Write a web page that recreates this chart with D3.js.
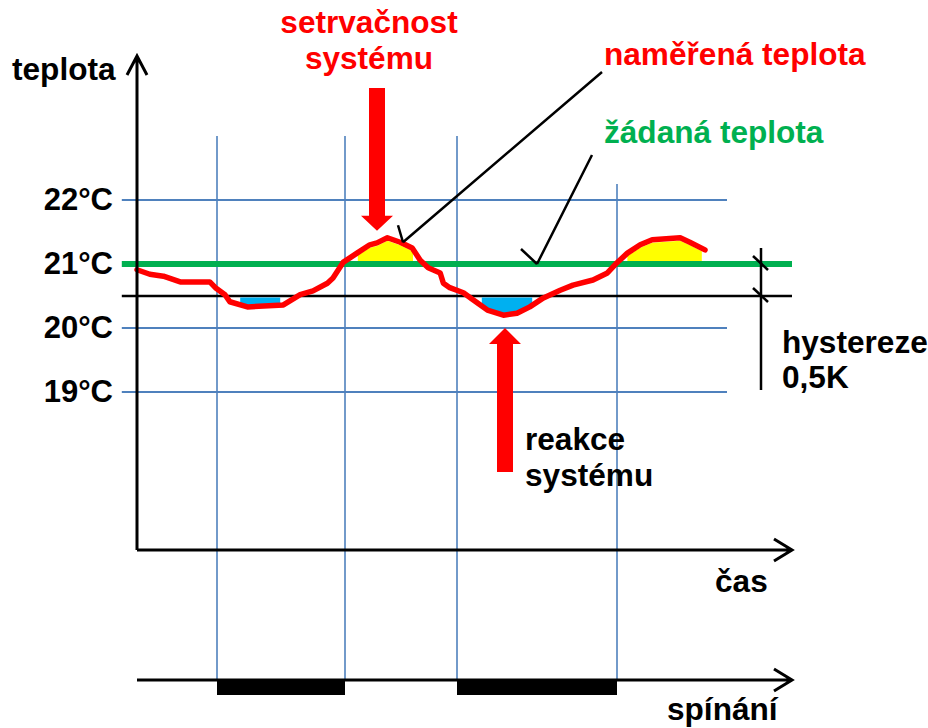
<!DOCTYPE html>
<html><head><meta charset="utf-8">
<script src="https://cdn.jsdelivr.net/npm/d3@7"></script>
<style>
body{margin:0;background:#fff}
text{font-family:"Liberation Sans",Arial,sans-serif;font-weight:bold;font-size:31.6px}
</style>
</head><body>
<svg id="c" width="928" height="728"></svg>
<script>
// ---- data ----
const yTicks = [19, 20, 21, 22];
const tickLabels = ["19°C", "20°C", "21°C", "22°C"];
const setpoint = 21;          // žádaná teplota
const hysteresis = 0.5;       // K
const switchOn = [[10, 26], [40, 60]];   // heating on intervals (time units)
const times = [0,1.6,3.3,5.4,9.1,9.8,11,11.6,13.8,18.3,20.4,22,23.8,24.5,25.8,27.5,29.1,30,31.3,32.9,34.4,35.4,36.4,37.9,38.3,39.1,40.8,42,43.8,45.8,47.5,49.1,50.8,52.9,54.5,57,58.8,60,61.3,62.9,64.4,67.9,69.1,71];
const temps = [20.91,20.84,20.81,20.72,20.72,20.63,20.52,20.41,20.33,20.36,20.52,20.58,20.70,20.78,21.03,21.17,21.30,21.33,21.41,21.34,21.25,21.06,20.94,20.86,20.70,20.63,20.55,20.44,20.28,20.20,20.23,20.33,20.47,20.59,20.67,20.75,20.86,21.02,21.17,21.30,21.38,21.41,21.34,21.22];
const overshoot = [[27.6, 34.5], [61.3, 70.6]];   // yellow
const undershoot = [[12.9, 17.9], [43.1, 49.4]];  // blue

// ---- layout ----
const svg = d3.select("#c");
const x = d3.scaleLinear().domain([0, 81.875]).range([137, 792]);
const y = d3.scaleLinear().domain([19, 22]).range([392, 200]);
const axisBottom = 550, axisTop = 56, switchY = 680;
const blue = "#4f81bd", green = "#00b050", red = "#ff0000", ylw = "#ffff00", cyan = "#00b0f0";

// interpolation on measured data
function interp(t) {
  const n = times.length;
  const i = d3.bisectRight(times, t);
  if (i <= 0) return temps[0];
  if (i >= n) return temps[n - 1];
  const t0 = times[i - 1], t1 = times[i];
  return temps[i - 1] + (temps[i] - temps[i - 1]) * (t - t0) / (t1 - t0);
}
function segment(r) {
  const ts = [r[0], ...times.filter(t => t > r[0] && t < r[1]), r[1]];
  return ts.map(t => [t, interp(t)]);
}

// horizontal gridlines
svg.append("g").selectAll("line").data(yTicks.filter(v => v !== setpoint)).join("line")
  .attr("x1", x(-1.9)).attr("x2", x(73.75))
  .attr("y1", d => y(d)).attr("y2", d => y(d))
  .attr("stroke", blue).attr("stroke-width", 2);

// vertical switching lines
const edges = switchOn.flat();
const edgeTops = [136, 136, 136, 184];
svg.append("g").selectAll("line").data(edges).join("line")
  .attr("x1", d => x(d)).attr("x2", d => x(d))
  .attr("y1", (d, i) => edgeTops[i]).attr("y2", switchY)
  .attr("stroke", blue).attr("stroke-width", 1.6);

// hysteresis (black) and setpoint (green) lines
svg.append("line").attr("x1", x(-1.9)).attr("x2", x(81.875))
  .attr("y1", y(setpoint - hysteresis)).attr("y2", y(setpoint - hysteresis))
  .attr("stroke", "#000").attr("stroke-width", 2.5);
svg.append("line").attr("x1", x(-1.9)).attr("x2", x(81.875))
  .attr("y1", y(setpoint)).attr("y2", y(setpoint))
  .attr("stroke", green).attr("stroke-width", 6);

// fills
const yArea = d3.area().x(d => x(d[0])).y0(y(setpoint) - 3).y1(d => y(d[1]) + 3);
svg.append("g").selectAll("path").data(overshoot).join("path")
  .attr("d", d => yArea(segment(d))).attr("fill", ylw);
const bArea = d3.area().x(d => x(d[0])).y0(y(setpoint - hysteresis) + 1.5).y1(d => y(d[1]) - 2);
svg.append("g").selectAll("path").data(undershoot).join("path")
  .attr("d", d => bArea(segment(d))).attr("fill", cyan);

// measured temperature
svg.append("path")
  .datum(times.map((t, i) => [t, temps[i]]))
  .attr("d", d3.line().x(d => x(d[0])).y(d => y(d[1])))
  .attr("fill", "none").attr("stroke", red).attr("stroke-width", 5.5)
  .attr("stroke-linejoin", "round").attr("stroke-linecap", "round");

// y tick labels
svg.append("g").attr("transform", `translate(${x(0)},0)`)
  .call(d3.axisLeft(y).tickValues(yTicks).tickSize(0).tickPadding(24)
    .tickFormat(d => tickLabels[yTicks.indexOf(d)]))
  .call(g => g.select(".domain").remove())
  .call(g => g.selectAll("text").attr("fill", "#000")
    .style("font-family", '"Liberation Sans",Arial,sans-serif')
    .style("font-weight", "bold").style("font-size", "31px"));

// axes with open arrow heads
const ax = svg.append("g").attr("stroke", "#000").attr("fill", "none");
ax.append("path").attr("stroke-width", 3)
  .attr("d", `M${x(0)},${axisBottom}V${axisTop}M${x(0) - 10},${axisTop + 19}L${x(0)},${axisTop}L${x(0) + 10},${axisTop + 19}`);
ax.append("path").attr("stroke-width", 3)
  .attr("d", `M${x(0)},${axisBottom}H${x(81.875)}M${x(81.875) - 18},${axisBottom - 11}L${x(81.875)},${axisBottom}L${x(81.875) - 18},${axisBottom + 11}`);
ax.append("path").attr("stroke-width", 3)
  .attr("d", `M${x(0)},${switchY}H${x(81.875)}M${x(81.875) - 18},${switchY - 11}L${x(81.875)},${switchY}L${x(81.875) - 18},${switchY + 11}`);

// switching bars
svg.append("g").selectAll("rect").data(switchOn).join("rect")
  .attr("x", d => x(d[0])).attr("width", d => x(d[1]) - x(d[0]))
  .attr("y", switchY).attr("height", 15).attr("fill", "#000");

// hysteresis bracket
const hx = x(78);
const br = svg.append("g").attr("stroke", "#000").attr("stroke-width", 2.5);
br.append("line").attr("x1", hx).attr("x2", hx).attr("y1", y(setpoint) - 16).attr("y2", 390);
[setpoint, setpoint - hysteresis].forEach(v => {
  br.append("line").attr("x1", hx - 8).attr("x2", hx + 7).attr("y1", y(v) - 8).attr("y2", y(v) + 6);
});

// leader lines
const ld = svg.append("g").attr("stroke", "#000").attr("stroke-width", 2.5).attr("fill", "none");
const p1 = [x(33.25), y(21.34)];
ld.append("path").attr("d", `M602,72L${p1[0]},${p1[1]}M${p1[0] - 5},${p1[1] - 17}L${p1[0]},${p1[1]}`);
const p2 = [x(50), y(setpoint)];
ld.append("path").attr("d", `M592,155L${p2[0]},${p2[1]}M${p2[0] - 16},${p2[1] - 15}L${p2[0]},${p2[1]}`);

// red block arrows
const a1x = x(30), a1y = y(21.52);
svg.append("path").attr("fill", red)
  .attr("d", `M${a1x - 8},88H${a1x + 8}V${a1y - 15}H${a1x + 16}L${a1x},${a1y}L${a1x - 16},${a1y - 15}H${a1x - 8}Z`);
const a2x = x(46), a2y = y(20);
svg.append("path").attr("fill", red)
  .attr("d", `M${a2x - 8},472H${a2x + 8}V${a2y + 16}H${a2x + 16}L${a2x},${a2y}L${a2x - 16},${a2y + 16}H${a2x - 8}Z`);

// texts
const T = (txt, px, py, col, anchor) => svg.append("text").attr("x", px).attr("y", py)
  .attr("fill", col).attr("text-anchor", anchor || "start").text(txt);
T("teplota", 12, 80, "#000");
T("setrvačnost", 369, 33, red, "middle");
T("systému", 369, 69, red, "middle");
T("naměřená teplota", 604, 65, red);
T("žádaná teplota", 604, 143, green);
T("reakce", 525, 450, "#000");
T("systému", 525, 486, "#000");
T("hystereze", 782, 353, "#000");
T("0,5K", 782, 388, "#000");
T("čas", 715, 592, "#000");
T("spínání", 667, 720, "#000");
</script>
</body></html>
